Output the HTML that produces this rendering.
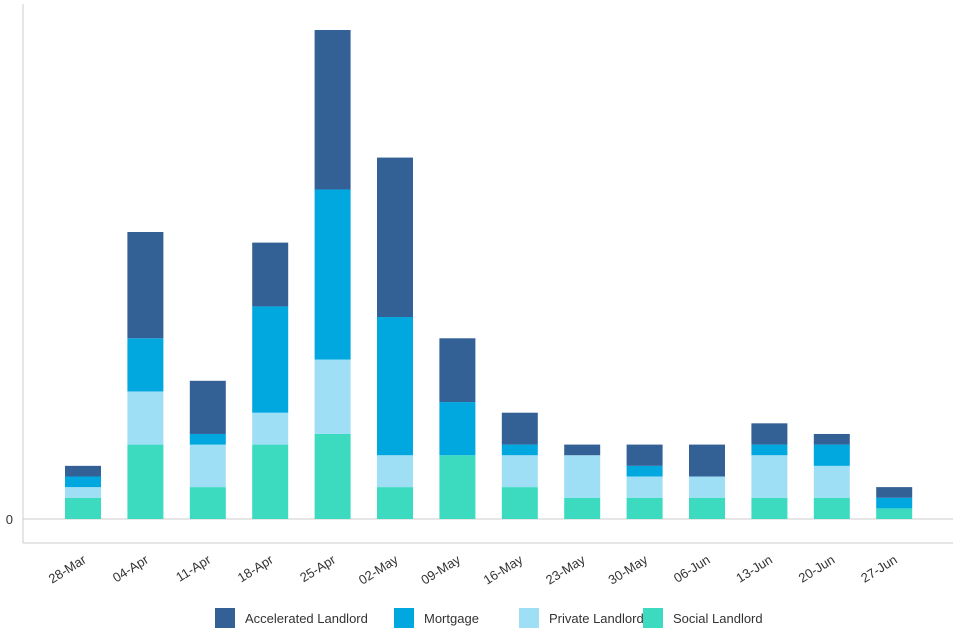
<!DOCTYPE html>
<html><head><meta charset="utf-8"><style>
body{margin:0;background:#fff;font-family:"Liberation Sans",sans-serif;}
</style></head><body>
<svg id="c" width="960" height="640" style="display:block"></svg>
<script>
const categories=["28-Mar","04-Apr","11-Apr","18-Apr","25-Apr","02-May","09-May","16-May","23-May","30-May","06-Jun","13-Jun","20-Jun","27-Jun"];
const social=[2,7,3,7,8,3,6,3,2,2,2,2,2,1];
const privateL=[1,5,4,3,7,3,0,3,4,2,2,4,3,0];
const mortgage=[1,5,1,10,16,13,5,1,0,1,0,1,2,1];
const accelerated=[1,10,5,6,15,15,6,3,1,2,3,2,1,1];
const seriesNames=["Accelerated Landlord","Mortgage","Private Landlord","Social Landlord"];
const colors={"Social Landlord":"#3cdbc0","Private Landlord":"#9edff6","Mortgage":"#00a8df","Accelerated Landlord":"#336196"};
const NS="http://www.w3.org/2000/svg";
const svg=document.getElementById('c');
function mk(t,a){const e=document.createElementNS(NS,t);for(const k in a)e.setAttribute(k,a[k]);svg.appendChild(e);return e;}
const y0=519,unit=10.63;
const yScale=v=>y0-v*unit;
const xScale=i=>83+i*62.4;
const bw=36;
let e=mk('line',{x1:23,y1:4,x2:23,y2:543,stroke:'#ccc'});

e=mk('line',{x1:23,y1:543,x2:953,y2:543,stroke:'#ccc'});

e=mk('line',{x1:23,y1:519,x2:953,y2:519,stroke:'#ccc'});

e=mk('text',{x:13,y:524,'text-anchor':'end','font-size':13,fill:'#333'});e.textContent='0';

const stack=[["Social Landlord",social],["Private Landlord",privateL],["Mortgage",mortgage],["Accelerated Landlord",accelerated]];
categories.forEach((c,i)=>{
  let base=0;
  stack.forEach(([n,arr])=>{
    const v=arr[i];
    if(v>0){
      const r=mk('rect',{x:xScale(i)-bw/2,y:yScale(base+v),width:bw,height:yScale(base)-yScale(base+v),fill:colors[n]});
      
      
    }
    base+=v;
  });
  const t=mk('text',{x:xScale(i)+4,y:562,'text-anchor':'end','font-size':13,fill:'#333',transform:`rotate(-32 ${xScale(i)+4} 562)`});
  t.textContent=c;
  
  
});
const lx=[215,394,519,643];
seriesNames.forEach((n,k)=>{
  const r=mk('rect',{x:lx[k],y:608,width:20,height:20,fill:colors[n]});
  
  
  const t=mk('text',{x:lx[k]+30,y:623,'font-size':13,fill:'#333'});
  t.textContent=n;
  
  
});
</script>
</body></html>
